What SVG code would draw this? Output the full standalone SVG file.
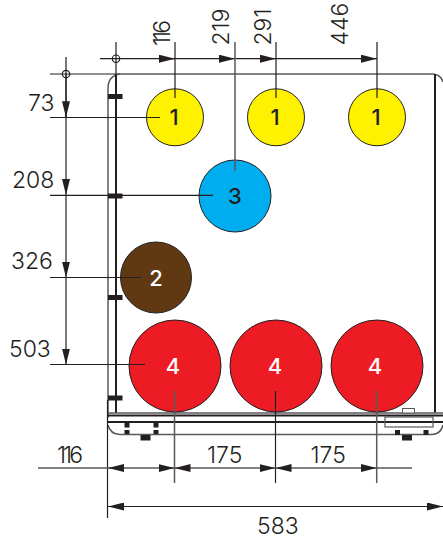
<svg xmlns="http://www.w3.org/2000/svg" width="443" height="539" viewBox="0 0 443 539">
<style>
.t{font-family:"Inter","Liberation Sans",sans-serif;font-size:23px;font-weight:300;fill:#231f20}
.n{font-family:"Inter","Liberation Sans",sans-serif;font-size:22px;font-weight:500;text-anchor:middle}
.c{stroke:#231f20;stroke-width:1}
.d{fill:none;stroke:#231f20;stroke-width:1.200}
.g{fill:none;stroke:#58595b;stroke-width:1.500}
.k{fill:none;stroke:#231f20;stroke-width:2}
.b{fill:#231f20}
</style>
<defs>
<marker id="a" markerUnits="userSpaceOnUse" markerWidth="16" markerHeight="8" refX="16" refY="4" orient="auto-start-reverse"><path d="M0 0L16 4L0 8z" fill="#231f20"/></marker>
</defs>
<g id="cabinet">
<path class="g" d="M108 418V88Q108 76 120 74"/>
<path class="k" d="M116 74V413"/>
<path class="g" d="M116 74H433Q441 75 443 82"/>
<path class="k" d="M435 74V413"/>
<path class="g" d="M108 413H443"/>
<path class="k" d="M108 415.500H443"/>
<path class="k" d="M108 422H443" stroke-width="1.500"/>
<path class="g" d="M108 425Q110 434 120 434.500H432Q441 434 443 425"/>
<rect class="b" x="108" y="94" width="14.500" height="5"/>
<rect class="b" x="108" y="193.500" width="14.500" height="5"/>
<rect class="b" x="108" y="295" width="14.500" height="5"/>
<rect class="b" x="108" y="395.500" width="14.500" height="5"/>
<path class="b" d="M124.500 423h5v4.500h-5zM124.500 430h5v4h-5zM153.500 423h5v4.500h-5zM153.500 430h5v4h-5zM140.500 435h10v5.500h-10zM395 430h5v5h-5zM423.500 430h5v5h-5zM402 435h10v5.500h-10z"/>
<rect x="385" y="417" width="48" height="10" fill="none" stroke="#58595b" stroke-width="1.200"/>
<rect x="402.500" y="408.500" width="12" height="4.500" fill="#fff" stroke="#58595b" stroke-width="1"/>
</g>
<g id="node-1a"><circle class="c" cx="175" cy="117.300" r="28.500" fill="#fff200"/><text class="n" x="174" y="125" fill="#231f20">1</text></g>
<g id="node-1b"><circle class="c" cx="276" cy="117.300" r="28.500" fill="#fff200"/><text class="n" x="275" y="125" fill="#231f20">1</text></g>
<g id="node-1c"><circle class="c" cx="377" cy="117.300" r="28.500" fill="#fff200"/><text class="n" x="376" y="125" fill="#231f20">1</text></g>
<g id="node-3"><circle class="c" cx="235" cy="196" r="36" fill="#00aeef"/><text class="n" x="235" y="204" fill="#231f20">3</text></g>
<g id="node-2"><circle class="c" cx="156" cy="277.500" r="35.500" fill="#603913"/><text class="n" x="156" y="285.500" fill="#fff">2</text></g>
<g id="node-4a"><circle class="c" cx="175" cy="366" r="46" fill="#ed1c24"/><text class="n" x="173" y="374" fill="#fff">4</text></g>
<g id="node-4b"><circle class="c" cx="276" cy="366" r="46" fill="#ed1c24"/><text class="n" x="275" y="374" fill="#fff">4</text></g>
<g id="node-4c"><circle class="c" cx="377" cy="366" r="46" fill="#ed1c24"/><text class="n" x="375" y="374" fill="#fff">4</text></g>
<g id="connectors">
<path class="d" d="M50 74H116M116 42V74M66 57V117.300"/>
<circle class="d" cx="116" cy="58.700" r="3.700"/>
<circle class="d" cx="66" cy="74" r="3.700"/>
<path class="d" d="M100 58.700H175" marker-end="url(#a)"/>
<path class="d" d="M175 58.700H235" marker-end="url(#a)"/>
<path class="d" d="M235 58.700H276" marker-end="url(#a)"/>
<path class="d" d="M276 58.700H377" marker-end="url(#a)"/>
<path class="d" d="M66 74V117.300" marker-end="url(#a)"/>
<path class="d" d="M66 117.300V195" marker-end="url(#a)"/>
<path class="d" d="M66 195V277.500" marker-end="url(#a)"/>
<path class="d" d="M66 277.500V364.500" marker-end="url(#a)"/>
<path class="d" d="M175 42V98M276 42V98M377 42V98"/>
<path class="g" d="M235 42V171"/>
<path class="d" d="M50 117.500H160M50 195.300H213M50 277.500H141M50 364.500H145"/>
<path class="g" d="M174.500 391V483M376.700 391V483"/>
<path class="d" d="M275.500 391V483"/>
<path class="d" d="M107.500 400V518"/>
<path class="g" d="M38 468H108"/>
<path class="g" d="M108 468H174.500" marker-start="url(#a)" marker-end="url(#a)"/>
<path class="g" d="M174.500 468H275.500" marker-start="url(#a)" marker-end="url(#a)"/>
<path class="g" d="M275.500 468H376.700" marker-start="url(#a)" marker-end="url(#a)"/>
<path class="g" d="M376.700 468H412"/>
<path class="d" d="M108 506.500H443" marker-start="url(#a)" marker-end="url(#a)"/>
</g>
<g id="labels">
<text class="t" transform="translate(170 46) rotate(-90)" textLength="26">116</text>
<text class="t" transform="translate(229 45.500) rotate(-90)">219</text>
<text class="t" transform="translate(271 45.500) rotate(-90)">291</text>
<text class="t" transform="translate(348 45.500) rotate(-90)">446</text>
<text class="t" x="28" y="110.500">73</text>
<text class="t" x="12" y="188">208</text>
<text class="t" x="11" y="268.700">326</text>
<text class="t" x="9" y="356.700">503</text>
<text class="t" x="57" y="463" textLength="26">116</text>
<text class="t" x="207" y="463">175</text>
<text class="t" x="310.500" y="463">175</text>
<text class="t" x="257" y="533.500">583</text>
</g>
</svg>
